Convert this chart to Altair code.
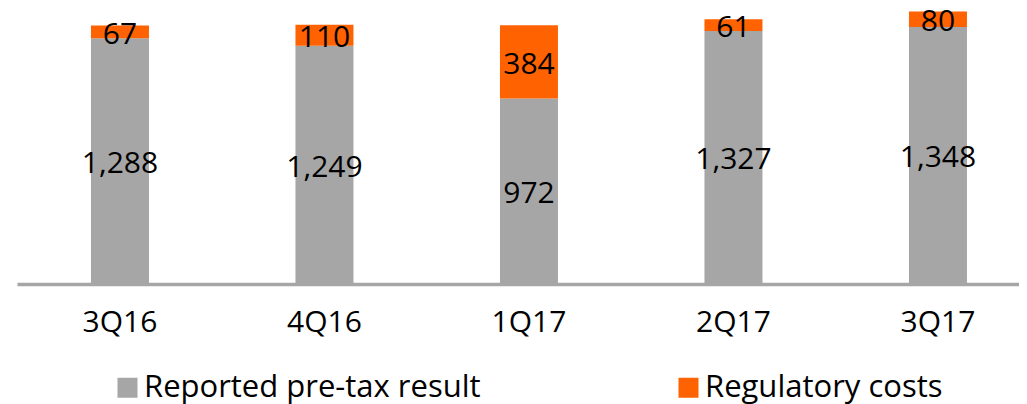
import altair as alt
import pandas as pd

quarters = ["3Q16", "4Q16", "1Q17", "2Q17", "3Q17"]
reported = [1288, 1249, 972, 1327, 1348]
regulatory = [67, 110, 384, 61, 80]
series = ["Reported pre-tax result", "Regulatory costs"]
colors = ["#A6A6A6", "#FF6200"]

rows = []
for q, r, g in zip(quarters, reported, regulatory):
    rows.append({"quarter": q, "series": series[0], "value": r, "order": 0})
    rows.append({"quarter": q, "series": series[1], "value": g, "order": 1})
df = pd.DataFrame(rows)

FONT = "Open Sans"

base = alt.Chart(df).transform_stack(
    stack="value", groupby=["quarter"], sort=[alt.SortField("order")], as_=["y0", "y1"]
).transform_calculate(mid="(datum.y0 + datum.y1) / 2")

xenc = alt.X(
    "quarter:N", sort=quarters, title=None,
    scale=alt.Scale(paddingInner=0.7164, paddingOuter=0.3081, align=0.587),
    axis=alt.Axis(
        domainColor="#A6A6A6", domainWidth=3.5, ticks=False, tickSize=0,
        labelFontSize=30, labelFont=FONT, labelColor="#000000", labelAngle=0,
        labelBaseline="middle", labelPadding=38, grid=False,
    ),
)
yscale = alt.Scale(domain=[0, 1447], nice=False)

bars = base.mark_bar().encode(
    x=xenc,
    y=alt.Y("y0:Q", scale=yscale, axis=None),
    y2="y1:Q",
    color=alt.Color(
        "series:N",
        scale=alt.Scale(domain=series, range=colors),
        legend=alt.Legend(
            orient="none", legendX=95, legendY=364, direction="horizontal",
            title=None, symbolType="square", symbolSize=400, symbolStrokeWidth=0,
            symbolOpacity=1, labelFontSize=31, labelFont=FONT, labelColor="#000000",
            labelOffset=1, columnPadding=192, padding=0, labelLimit=600,
        ),
    ),
    order=alt.Order("order:Q"),
)

labels = base.mark_text(fontSize=30, font=FONT, color="#000000", baseline="middle", dy=3).encode(
    x=xenc,
    y=alt.Y("mid:Q", scale=yscale, axis=None),
    text=alt.Text("value:Q", format=",d"),
)

chart = alt.layer(bars, labels).properties(
    width=1002, height=276,
    autosize=alt.AutoSizeParams(type="none"),
    padding={"left": 9, "top": 0, "right": 0, "bottom": 122},
).configure_view(stroke=None)

chart.save("out.html", embed_options={"renderer": "svg", "actions": False})
